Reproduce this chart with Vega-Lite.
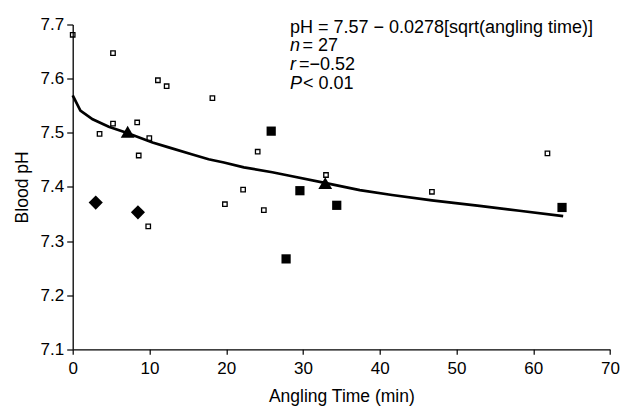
{
  "$schema": "https://vega.github.io/schema/vega-lite/v6.json",
  "autosize": {"type": "none"},
  "padding": {"left": 72.7, "top": 24.5, "right": 16, "bottom": 57.7},
  "width": 537.3,
  "height": 324.8,
  "background": "white",
  "config": {
    "view": {"stroke": null},
    "font": "Liberation Sans",
    "axis": {
      "grid": false,
      "domainColor": "black",
      "domainWidth": 1.3,
      "tickColor": "black",
      "tickWidth": 1.2,
      "labelFont": "Liberation Sans",
      "labelFontSize": 17,
      "labelColor": "black",
      "titleFont": "Liberation Sans",
      "titleFontSize": 17.5,
      "titleFontWeight": "normal",
      "titleColor": "black"
    },
    "text": {"font": "Liberation Sans", "fontSize": 18, "color": "black", "align": "left", "baseline": "alphabetic"}
  },
  "datasets": {
    "points": [
      {"t": 0, "pH": 7.681, "group": "open"},
      {"t": 5.25, "pH": 7.647, "group": "open"},
      {"t": 11.1, "pH": 7.597, "group": "open"},
      {"t": 12.24, "pH": 7.586, "group": "open"},
      {"t": 18.2, "pH": 7.564, "group": "open"},
      {"t": 5.25, "pH": 7.517, "group": "open"},
      {"t": 3.5, "pH": 7.498, "group": "open"},
      {"t": 8.4, "pH": 7.519, "group": "open"},
      {"t": 9.98, "pH": 7.49, "group": "open"},
      {"t": 8.6, "pH": 7.458, "group": "open"},
      {"t": 24.1, "pH": 7.465, "group": "open"},
      {"t": 22.2, "pH": 7.395, "group": "open"},
      {"t": 24.9, "pH": 7.357, "group": "open"},
      {"t": 33.0, "pH": 7.422, "group": "open"},
      {"t": 46.8, "pH": 7.391, "group": "open"},
      {"t": 61.85, "pH": 7.462, "group": "open"},
      {"t": 9.84, "pH": 7.327, "group": "open"},
      {"t": 19.83, "pH": 7.368, "group": "open"},
      {"t": 25.86, "pH": 7.503, "group": "filled"},
      {"t": 29.6, "pH": 7.393, "group": "filled"},
      {"t": 34.4, "pH": 7.366, "group": "filled"},
      {"t": 27.8, "pH": 7.267, "group": "filled"},
      {"t": 63.75, "pH": 7.362, "group": "filled"},
      {"t": 7.16, "pH": 7.502, "group": "triangle"},
      {"t": 32.9, "pH": 7.407, "group": "triangle"},
      {"t": 3.0, "pH": 7.371, "group": "diamond"},
      {"t": 8.5, "pH": 7.353, "group": "diamond"}
    ],
    "fit": [
      {"t": 0, "pH": 7.569},
      {"t": 1, "pH": 7.541},
      {"t": 2.6, "pH": 7.525},
      {"t": 4.7, "pH": 7.511},
      {"t": 7.2, "pH": 7.499},
      {"t": 10.4, "pH": 7.482},
      {"t": 12.5, "pH": 7.473},
      {"t": 15.6, "pH": 7.46},
      {"t": 17.7, "pH": 7.451},
      {"t": 19.7, "pH": 7.445},
      {"t": 22.3, "pH": 7.436},
      {"t": 26, "pH": 7.427},
      {"t": 28.1, "pH": 7.421},
      {"t": 33, "pH": 7.407},
      {"t": 37.4, "pH": 7.394},
      {"t": 41.6, "pH": 7.385},
      {"t": 46.8, "pH": 7.375},
      {"t": 53, "pH": 7.365},
      {"t": 58.2, "pH": 7.356},
      {"t": 63.9, "pH": 7.346}
    ],
    "note": [{"label": "annotation"}]
  },
  "layer": [
    {
      "data": {"name": "fit"},
      "mark": {"type": "line", "color": "black", "strokeWidth": 2.7},
      "encoding": {
        "x": {
          "field": "t",
          "type": "quantitative",
          "scale": {"domain": [0, 70], "nice": false, "zero": false},
          "axis": {
            "title": "Angling Time (min)",
            "values": [0, 5, 10, 15, 20, 25, 30, 35, 40, 45, 50, 55, 60, 65, 70],
            "labelExpr": "datum.value % 10 === 0 ? datum.label : ''",
            "tickSize": 5,
            "labelPadding": 6,
            "titlePadding": 11,
            "labelFlush": false,
            "labelOverlap": false
          }
        },
        "y": {
          "field": "pH",
          "type": "quantitative",
          "scale": {"domain": [7.1, 7.7], "nice": false, "zero": false},
          "axis": {
            "title": "Blood pH",
            "values": [7.1, 7.15, 7.2, 7.25, 7.3, 7.35, 7.4, 7.45, 7.5, 7.55, 7.6, 7.65, 7.7],
            "labelExpr": "abs(datum.value * 10 - round(datum.value * 10)) < 0.001 ? format(datum.value, '.1f') : ''",
            "tickSize": 6,
            "labelPadding": 3,
            "titlePadding": 9,
            "labelFlush": false,
            "labelOverlap": false
          }
        }
      }
    },
    {
      "data": {"name": "points"},
      "transform": [{"filter": "datum.group === 'open'"}],
      "mark": {"type": "point", "shape": "square", "filled": false, "size": 20, "stroke": "black", "strokeWidth": 1.3, "opacity": 1},
      "encoding": {"x": {"field": "t", "type": "quantitative"}, "y": {"field": "pH", "type": "quantitative"}}
    },
    {
      "data": {"name": "points"},
      "transform": [{"filter": "datum.group === 'filled'"}],
      "mark": {"type": "point", "shape": "square", "filled": true, "size": 85, "color": "black", "opacity": 1},
      "encoding": {"x": {"field": "t", "type": "quantitative"}, "y": {"field": "pH", "type": "quantitative"}}
    },
    {
      "data": {"name": "points"},
      "transform": [{"filter": "datum.group === 'triangle'"}],
      "mark": {"type": "point", "shape": "triangle-up", "filled": true, "size": 190, "color": "black", "opacity": 1},
      "encoding": {"x": {"field": "t", "type": "quantitative"}, "y": {"field": "pH", "type": "quantitative"}}
    },
    {
      "data": {"name": "points"},
      "transform": [{"filter": "datum.group === 'diamond'"}],
      "mark": {"type": "point", "shape": "diamond", "filled": true, "size": 200, "color": "black", "opacity": 1},
      "encoding": {"x": {"field": "t", "type": "quantitative"}, "y": {"field": "pH", "type": "quantitative"}}
    },
    {
      "data": {"name": "note"},
      "layer": [
        {"mark": {"type": "text", "dy": 8.2, "text": "pH = 7.57 − 0.0278[sqrt(angling time)]"}},
        {"mark": {"type": "text", "dy": 26.5, "fontStyle": "italic", "text": "n"}},
        {"mark": {"type": "text", "dy": 26.5, "dx": 12.5, "text": "= 27"}},
        {"mark": {"type": "text", "dy": 45.5, "fontStyle": "italic", "text": "r"}},
        {"mark": {"type": "text", "dy": 45.5, "dx": 9, "text": "=−0.52"}},
        {"mark": {"type": "text", "dy": 64.5, "fontStyle": "italic", "text": "P"}},
        {"mark": {"type": "text", "dy": 64.5, "dx": 13, "text": "< 0.01"}}
      ],
      "encoding": {"x": {"datum": 28.3, "type": "quantitative"}, "y": {"datum": 7.7, "type": "quantitative"}}
    }
  ]
}
